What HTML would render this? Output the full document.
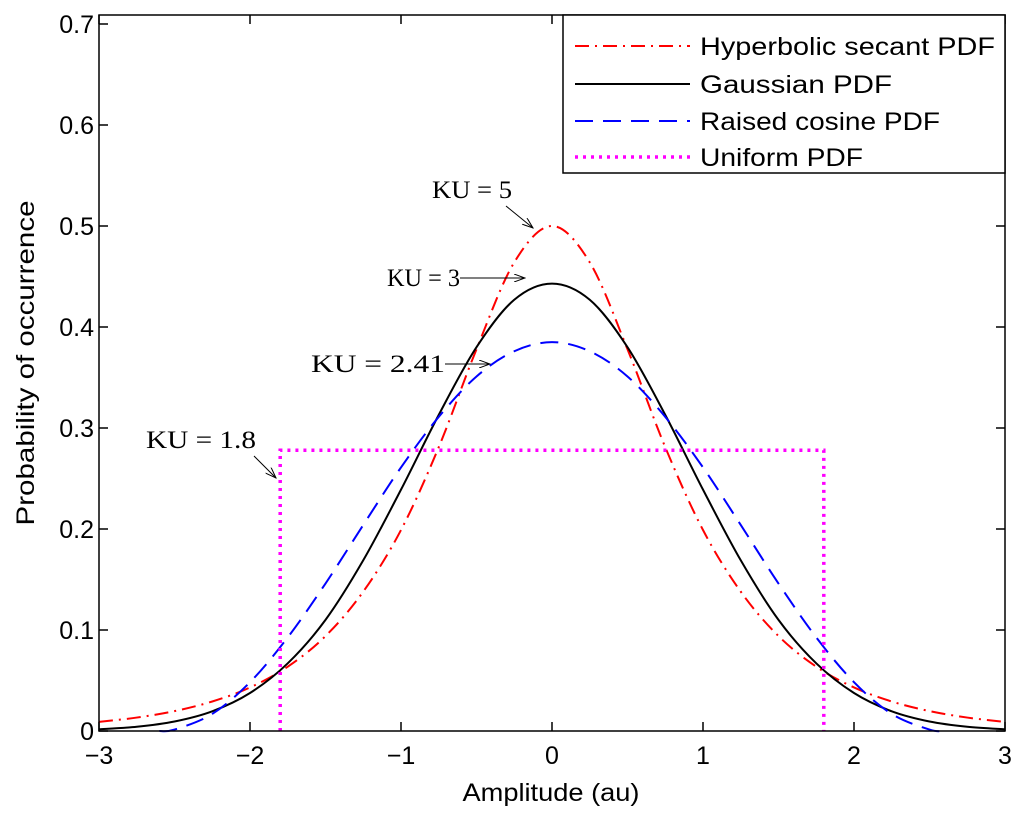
<!DOCTYPE html>
<html><head><meta charset="utf-8"><style>
body{margin:0;background:#fff;}
svg text{font-family:"Liberation Sans",sans-serif;}
svg text.serif{font-family:"Liberation Serif",serif;}
</style></head><body>
<svg width="1024" height="817" viewBox="0 0 1024 817" xmlns="http://www.w3.org/2000/svg">
<g id="plot"></g>
</svg>
<script>
const xs = [-3,-2.75,-2.5,-2.25,-2,-1.75,-1.5,-1.25,-1,-0.75,-0.5,-0.25,0,0.25,0.5,0.75,1,1.25,1.5,1.75,2,2.25,2.5,2.75,3];
const sechVals = [0.009,0.0133,0.0197,0.0292,0.0431,0.0637,0.094,0.138,0.199,0.281,0.378,0.464,0.5,0.464,0.378,0.281,0.199,0.138,0.094,0.0637,0.0431,0.0292,0.0197,0.0133,0.009];
const gaussVals = [0.0017,0.0042,0.0094,0.0195,0.0376,0.067,0.110,0.169,0.239,0.313,0.380,0.427,0.443,0.427,0.380,0.313,0.239,0.169,0.110,0.067,0.0376,0.0195,0.0094,0.0042,0.0017];
const rcX = [-2.6,-2.5,-2.25,-2,-1.75,-1.5,-1.25,-1,-0.75,-0.5,-0.25,0,0.25,0.5,0.75,1,1.25,1.5,1.75,2,2.25,2.5,2.6];
const rcVals = [0,0.0014,0.0169,0.0483,0.0927,0.146,0.204,0.261,0.311,0.351,0.376,0.385,0.376,0.351,0.311,0.261,0.204,0.146,0.0927,0.0483,0.0169,0.0014,0];
const uniX = [-1.8,-1.8,1.8,1.8];
const uniVals = [0,0.278,0.278,0];
const xTicks = [-3,-2,-1,0,1,2,3];
const yTicks = [0,0.1,0.2,0.3,0.4,0.5,0.6,0.7];
const yTickLabels = ["0","0.1","0.2","0.3","0.4","0.5","0.6","0.7"];

const L=99,R=1005,T=15,B=731;
const X=v=>L+(v+3)/6*(R-L);
const Y=v=>B-v/0.7*(B-24);
const NS="http://www.w3.org/2000/svg";
const g=document.getElementById('plot');
function mk(tag,attrs,parent){const e=document.createElementNS(NS,tag);for(const k in attrs)e.setAttribute(k,attrs[k]);(parent||g).appendChild(e);return e;}
function smooth(px,py){
  const p=px.map((x,i)=>[X(x),Y(py[i])]);
  let d=`M${p[0][0]},${p[0][1]}`;
  for(let i=0;i<p.length-1;i++){
    const p0=p[Math.max(i-1,0)],p1=p[i],p2=p[i+1],p3=p[Math.min(i+2,p.length-1)];
    const c1=[p1[0]+(p2[0]-p0[0])/6,p1[1]+(p2[1]-p0[1])/6];
    const c2=[p2[0]-(p3[0]-p1[0])/6,p2[1]-(p3[1]-p1[1])/6];
    d+=`C${c1[0]},${c1[1]} ${c2[0]},${c2[1]} ${p2[0]},${p2[1]}`;
  }
  return d;
}
xTicks.forEach(v=>{
  const t=mk('line',{x1:X(v),x2:X(v),y1:B,y2:B-9,stroke:'#000','stroke-width':1.5});
  
  
  const t2=mk('line',{x1:X(v),x2:X(v),y1:T,y2:T+9,stroke:'#000','stroke-width':1.5});
  
  
  const lb=mk('text',{x:X(v),y:B+33,'font-size':25,'text-anchor':'middle'});
  
  
  lb.textContent=(v<0?'\u2212'+(-v):String(v));
});
yTicks.forEach((v,i)=>{
  const t=mk('line',{x1:L,x2:L+9,y1:Y(v),y2:Y(v),stroke:'#000','stroke-width':1.5});
  
  
  const t2=mk('line',{x1:R,x2:R-9,y1:Y(v),y2:Y(v),stroke:'#000','stroke-width':1.5});
  
  
  const lb=mk('text',{x:L-5,y:Y(v)+9,'font-size':25,'text-anchor':'end'});
  
  
  lb.textContent=yTickLabels[i];
});
const s1=mk('path',{d:smooth(xs,sechVals),fill:'none',stroke:'#f00','stroke-width':2,'stroke-dasharray':'14,6,2,6'});


const s2=mk('path',{d:smooth(xs,gaussVals),fill:'none',stroke:'#000','stroke-width':2});


const s3=mk('path',{d:smooth(rcX,rcVals),fill:'none',stroke:'#00f','stroke-width':2,'stroke-dasharray':'18,10'});


const s4=mk('path',{d:uniX.map((x,i)=>(i?'L':'M')+X(x)+','+Y(uniVals[i])).join(''),fill:'none',stroke:'#f0f','stroke-width':3.5,'stroke-dasharray':'3,5'});


const fr=mk('rect',{x:L,y:T,width:R-L,height:B-T,fill:'none',stroke:'#000','stroke-width':1.5});


</script>
<svg style="position:absolute;left:0;top:0" width="1024" height="817" xmlns="http://www.w3.org/2000/svg">
<defs><marker id="ah" markerWidth="12" markerHeight="8" refX="11" refY="4" orient="auto"><path d="M0,0 L11,4 L0,8" fill="none" stroke="#000" stroke-width="1"/></marker></defs>
<g>
<rect x="563" y="15" width="442" height="158" fill="#fff" stroke="#000" stroke-width="1.5"/>
<line x1="575" y1="46" x2="690" y2="46" stroke="#f00" stroke-width="2" stroke-dasharray="14,6,2,6"/>
<text x="700" y="55" font-size="25" textLength="295" lengthAdjust="spacingAndGlyphs">Hyperbolic secant PDF</text>
<line x1="575" y1="84" x2="690" y2="84" stroke="#000" stroke-width="2"/>
<text x="700" y="93" font-size="25" textLength="192" lengthAdjust="spacingAndGlyphs">Gaussian PDF</text>
<line x1="575" y1="121" x2="690" y2="121" stroke="#00f" stroke-width="2" stroke-dasharray="18,10"/>
<text x="700" y="130" font-size="25" textLength="240" lengthAdjust="spacingAndGlyphs">Raised cosine PDF</text>
<line x1="575" y1="157" x2="690" y2="157" stroke="#f0f" stroke-width="3.5" stroke-dasharray="3,5"/>
<text x="700" y="166" font-size="25" textLength="163" lengthAdjust="spacingAndGlyphs">Uniform PDF</text>
</g>
<g>
<text x="432" y="198" class="serif" font-size="25" textLength="80" lengthAdjust="spacingAndGlyphs">KU = 5</text>
<line x1="506" y1="206" x2="533" y2="228" stroke="#000" stroke-width="1" marker-end="url(#ah)"/>
<text x="387" y="286" class="serif" font-size="25" textLength="73" lengthAdjust="spacingAndGlyphs">KU = 3</text>
<line x1="460" y1="278" x2="525" y2="278" stroke="#000" stroke-width="1" marker-end="url(#ah)"/>
<text x="311" y="372" class="serif" font-size="25" textLength="134" lengthAdjust="spacingAndGlyphs">KU = 2.41</text>
<line x1="445" y1="364" x2="490" y2="364" stroke="#000" stroke-width="1" marker-end="url(#ah)"/>
<text x="146" y="448" class="serif" font-size="25" textLength="110" lengthAdjust="spacingAndGlyphs">KU = 1.8</text>
<line x1="254" y1="456" x2="276" y2="478" stroke="#000" stroke-width="1" marker-end="url(#ah)"/>
</g>
<text x="551" y="801" font-size="25" text-anchor="middle" textLength="177" lengthAdjust="spacingAndGlyphs">Amplitude (au)</text>
<text x="0" y="0" font-size="25" text-anchor="middle" textLength="325" lengthAdjust="spacingAndGlyphs" transform="translate(34,363) rotate(-90)">Probability of occurrence</text>
</svg>
</body></html>
